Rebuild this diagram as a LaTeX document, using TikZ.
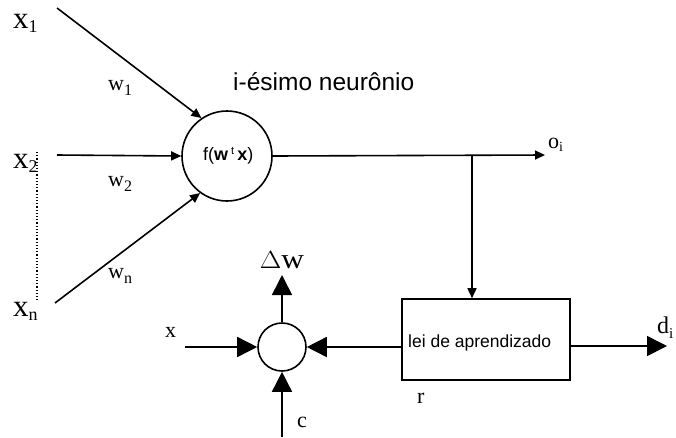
\documentclass[tikz,border=0pt]{standalone}
\usepackage{fontspec}
\setmainfont{Liberation Serif}
\newfontfamily\arialf{Liberation Sans}
\usetikzlibrary{arrows.meta}
\tikzset{
  lw/.style={line width=1.6pt},
  smallarr/.style={lw,-{Triangle[length=10pt,width=9pt]}},
  bigarr/.style={lw,-{Triangle[length=20pt,width=20pt]}},
  lab/.style={inner sep=0pt,anchor=base west,font=\fontsize{22}{22}\selectfont},
  xlab/.style={inner sep=0pt,anchor=base west,font=\fontsize{31}{31}\selectfont},
  sanslab/.style={inner sep=0pt,anchor=base west},
}
\begin{document}
\begin{tikzpicture}[x=1pt,y=-1pt]
\useasboundingbox[fill=white] (0,0) rectangle (676,437);
% neuron
\node[circle,draw,lw,minimum size=90pt,inner sep=0pt] (N) at (227,156) {};
\node[sanslab,font=\arialf\fontsize{18}{18}\selectfont] (f) at (203,160) {f(\textbf{w}\,\raisebox{6pt}{\fontsize{11}{11}\selectfont t}\,\textbf{x})};
% inputs
\coordinate (s1) at (57,8);
\coordinate (s2) at (57,155);
\coordinate (sn) at (55,303);
\draw[smallarr] (s1) -- (N.124.7);
\draw[smallarr] (s2) -- (N.west);
\draw[smallarr] (sn) -- (N.234);
\coordinate (d1) at (37,152);
\coordinate (d2) at (37,301);
\draw[line width=1.2pt,dotted] (d1) -- (d2);
\node[xlab] (x1) at (13,28) {x\raisebox{-4pt}{\fontsize{18}{18}\selectfont 1}};
\node[xlab] (x2) at (13,168) {x\raisebox{-4pt}{\fontsize{18}{18}\selectfont 2}};
\node[xlab] (xn) at (13,316) {x\raisebox{-4pt}{\fontsize{18}{18}\selectfont n}};
\node[lab] (w1) at (108,90) {w\raisebox{-5pt}{\fontsize{16}{16}\selectfont 1}};
\node[lab] (w2) at (108,186) {w\raisebox{-5pt}{\fontsize{16}{16}\selectfont 2}};
\node[lab] (wn) at (108,278) {w\raisebox{-5pt}{\fontsize{16}{16}\selectfont n}};
\node[sanslab,font=\arialf\fontsize{24.5}{24.5}\selectfont] (title) at (233,90) {i-ésimo neurônio};
% output
\coordinate (oe) at (545,155);
\draw[smallarr] (N.east) -- (oe);
\node[lab] (oi) at (548,148) {o\raisebox{-3pt}{\fontsize{14}{14}\selectfont i}};
% learning box
\node[draw,lw,minimum width=168pt,minimum height=81pt,inner sep=0pt] (B) at (486,339.5) {};
\node[sanslab,font=\arialf\fontsize{17.5}{17.5}\selectfont] (bt) at (408,347) {lei de aprendizado};
\coordinate (tap) at (472,155);
\draw[smallarr] (tap) -- (tap |- B.north);
\coordinate (de) at (667,346);
\draw[bigarr] (B.east |- de) -- (de);
\node[lab,font=\fontsize{24}{24}\selectfont] (di) at (657,333) {d\raisebox{-5pt}{\fontsize{15}{15}\selectfont i}};
\node[lab] (r) at (417,403) {r};
% small circle
\node[circle,draw,lw,minimum size=48pt,inner sep=0pt] (S) at (282,347) {};
\draw[bigarr] (B.west |- S) -- (S.east);
\coordinate (xs) at (185,347);
\draw[bigarr] (xs) -- (S.west);
\node[lab] (xl) at (165,337) {x};
\coordinate (dwe) at (282,275);
\draw[bigarr] (S.north) -- (dwe);
\node[inner sep=0pt,anchor=base,font=\fontsize{28}{28}\selectfont] (dw) at (282,268) {\scalebox{1.12}[1]{$\Delta$w}};
\coordinate (cs) at (282,437);
\draw[bigarr] (cs) -- (S.south);
\node[lab] (cl) at (297,427) {c};
\end{tikzpicture}
\end{document}
